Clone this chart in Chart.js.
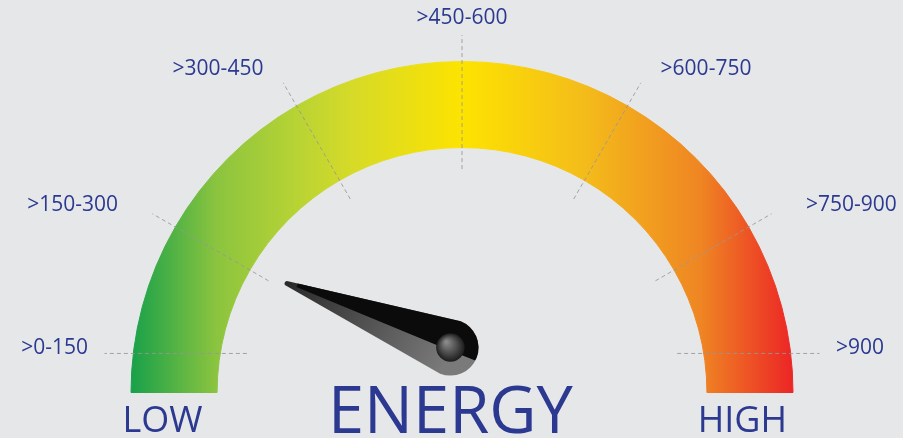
<!DOCTYPE html>
<html>
<head>
<meta charset="utf-8">
<script src="https://cdn.jsdelivr.net/npm/chart.js@4.4.1/dist/chart.umd.min.js"></script>
<style>
  html, body { margin: 0; padding: 0; background: #e6e7e9; }
  #wrap { width: 903px; height: 438px; position: relative; }
</style>
</head>
<body>
<div id="wrap"><canvas id="gauge"></canvas></div>
<script>
const categories = ['>0-150', '>150-300', '>300-450', '>450-600', '>600-750', '>750-900', '>900'];
const tickValues = [0, 150, 300, 450, 600, 750, 900];
const bandSizes = [150, 150, 150, 150, 150, 150];
const needleValue = 107;
const endLabels = ['LOW', 'HIGH'];
const title = 'ENERGY';

const TEXT = '#2b3990';
const FONT = '"Open Sans", "Noto Sans", sans-serif';

function bandGradient(context) {
    const area = context.chart.chartArea;
    if (!area) return '#fde200';
    const g = context.chart.ctx.createLinearGradient(area.left, 0, area.right, 0);
    g.addColorStop(0, '#17a04a');
    g.addColorStop(0.13, '#8bc43f');
    g.addColorStop(0.25, '#b7d334');
    g.addColorStop(0.33, '#d5da29');
    g.addColorStop(0.5, '#fde300');
    g.addColorStop(0.68, '#f4bd1a');
    g.addColorStop(0.86, '#ef8523');
    g.addColorStop(1, '#ec2426');
    return g;
}

// ticks, labels, needle and captions on top of the arc
const gaugeDecor = {
    id: 'gaugeDecor',
    afterDatasetsDraw(chart) {
        const ctx = chart.ctx;
        const arcs = chart.getDatasetMeta(0).data;
        const first = arcs[0], last = arcs[arcs.length - 1];
        const cx = first.x, cy = first.y, R = first.outerRadius;
        const total = bandSizes.reduce((a, b) => a + b, 0);
        const angleOf = v => first.startAngle + (v / total) * (last.endAngle - first.startAngle);

        ctx.save();
        ctx.strokeStyle = 'rgba(150,150,150,0.85)';
        ctx.lineWidth = 1;
        ctx.setLineDash([4, 3]);
        ctx.font = '21px ' + FONT;
        ctx.fillStyle = TEXT;
        ctx.textBaseline = 'middle';

        tickValues.forEach((v, i) => {
            const a = angleOf(v);
            const cos = Math.cos(a), sin = Math.sin(a);
            const isEnd = i === 0 || i === tickValues.length - 1;
            let x1, y1, x2, y2, lx, ly;
            if (isEnd) {
                const side = i === 0 ? -1 : 1;
                y1 = y2 = cy - 0.118 * R;
                x1 = cx + side * 0.65 * R;
                x2 = cx + side * 1.08 * R;
                lx = cx + side * 1.13 * R;
                ly = cy - 0.135 * R;
            } else {
                x1 = cx + cos * 0.675 * R; y1 = cy + sin * 0.675 * R;
                x2 = cx + cos * 1.08 * R;  y2 = cy + sin * 1.08 * R;
                lx = cx + cos * 1.2 * R;
                ly = cy + sin * 1.13 * R;
            }
            ctx.beginPath();
            ctx.moveTo(x1, y1);
            ctx.lineTo(x2, y2);
            ctx.stroke();

            ctx.textAlign = Math.abs(cos) < 0.05 ? 'center' : (cos < 0 ? 'right' : 'left');
            ctx.fillText(categories[i], lx, ly);
        });
        ctx.setLineDash([]);

        // captions
        const shift = -0.035 * R;
        const bandMid = (first.outerRadius + first.innerRadius) / 2;
        ctx.textBaseline = 'alphabetic';
        ctx.textAlign = 'center';
        ctx.font = '36px ' + FONT;
        ctx.fillText(endLabels[0], cx - bandMid + shift, cy + 39);
        ctx.fillText(endLabels[1], cx + bandMid + shift + 4, cy + 39);
        ctx.font = '65px ' + FONT;
        ctx.fillText(title, cx + shift, cy + 40);

        // needle
        const hx = cx + shift, hy = cy - 0.136 * R;
        const na = angleOf(needleValue);
        const ux = Math.cos(na), uy = Math.sin(na);
        const len = 0.53 * R, rb = 0.085 * R, rt = 2.5;
        const tx = hx + ux * len, ty = hy + uy * len;
        const nx = -uy, ny = ux; // perpendicular, pointing to the upper side
        const outline = () => {
            ctx.beginPath();
            ctx.moveTo(tx - nx * rt, ty - ny * rt);
            ctx.lineTo(hx - nx * rb, hy - ny * rb);
            ctx.arc(hx, hy, rb, na - Math.PI / 2, na + Math.PI / 2, true);
            ctx.lineTo(tx + nx * rt, ty + ny * rt);
            ctx.arc(tx, ty, rt, na + Math.PI / 2, na - Math.PI / 2, true);
            ctx.closePath();
        };
        const grey = ctx.createLinearGradient(tx, ty, hx - nx * rb, hy - ny * rb);
        grey.addColorStop(0, '#2a2a2a');
        grey.addColorStop(1, '#7a7a7a');
        outline();
        ctx.fillStyle = grey;
        ctx.fill();
        // dark upper half
        ctx.save();
        outline();
        ctx.clip();
        ctx.beginPath();
        ctx.moveTo(tx - ux * 10, ty - uy * 10);
        ctx.lineTo(tx - ux * 10 + nx * 60, ty - uy * 10 + ny * 60);
        ctx.lineTo(hx - ux * 60 + nx * 60, hy - uy * 60 + ny * 60);
        ctx.lineTo(hx - ux * 60 - nx * 3, hy - uy * 60 - ny * 3);
        ctx.lineTo(hx - nx * 3, hy - ny * 3);
        ctx.closePath();
        ctx.fillStyle = '#0b0b0b';
        ctx.fill();
        ctx.restore();

        const hr = 0.043 * R;
        const hub = ctx.createRadialGradient(hx - hr * 0.3, hy - hr * 0.4, 1, hx, hy, hr);
        hub.addColorStop(0, '#8a8a8a');
        hub.addColorStop(1, '#1c1c1c');
        ctx.beginPath();
        ctx.arc(hx, hy, hr, 0, Math.PI * 2);
        ctx.fillStyle = hub;
        ctx.fill();
        ctx.restore();
    }
};

new Chart(document.getElementById('gauge').getContext('2d'), {
    type: 'doughnut',
    data: {
        labels: categories.slice(0, bandSizes.length),
        datasets: [{
            data: bandSizes,
            backgroundColor: bandGradient,
            borderColor: bandGradient,
            borderWidth: 1
        }]
    },
    options: {
        responsive: true,
        maintainAspectRatio: false,
        animation: false,
        rotation: -90,
        circumference: 180,
        cutout: '74%',
        layout: { padding: { left: 130, right: 109, top: 61, bottom: 45 } },
        plugins: { legend: { display: false }, tooltip: { enabled: false } },
        events: []
    },
    plugins: [gaugeDecor]
});
</script>
</body>
</html>
